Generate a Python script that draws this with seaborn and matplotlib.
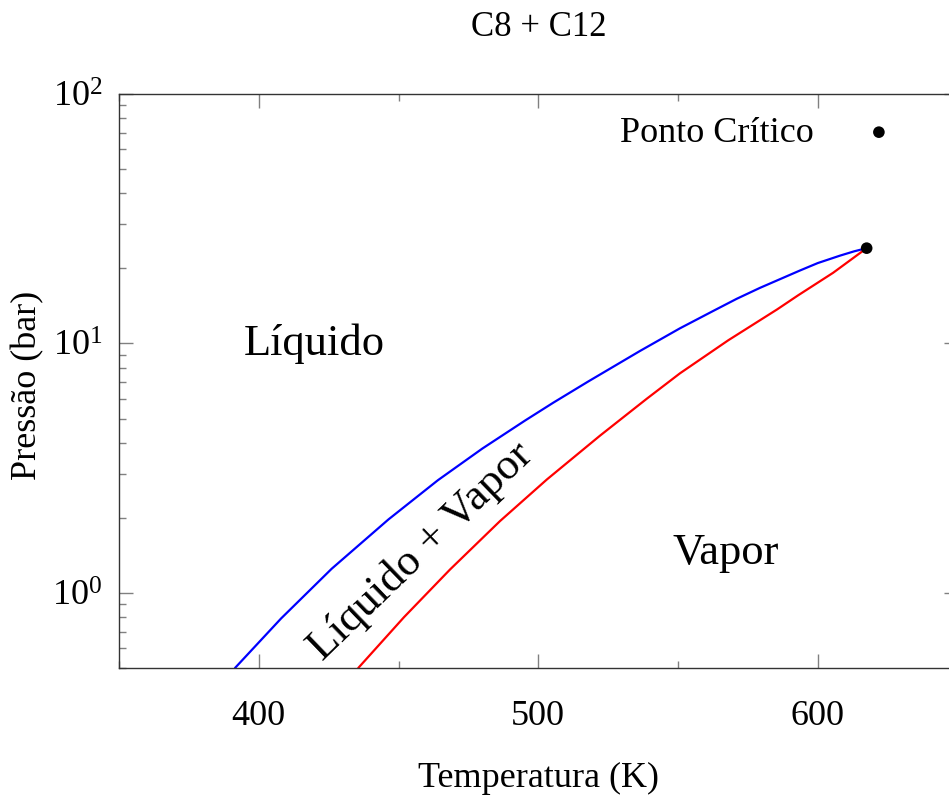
import matplotlib
matplotlib.use("Agg")
import matplotlib.pyplot as plt
from matplotlib.ticker import MultipleLocator, LogLocator, NullFormatter
import pandas as pd
import seaborn as sns

# curvas de bolha (azul) e orvalho (vermelho)
bubble_T = [391.5, 408.0, 426.1, 446.4, 464.1, 480.0, 495.3, 505.4, 517.8,
            536.4, 550.7, 562.6, 571.0, 579.3, 593.6, 600.0, 608.0, 613.0, 617.5]
bubble_P = [0.50, 0.79, 1.25, 1.97, 2.83, 3.79, 4.91, 5.79, 7.03,
            9.33, 11.5, 13.5, 15.1, 16.7, 19.6, 21.0, 22.5, 23.4, 24.1]

dew_T = [435.6, 452.0, 468.4, 486.3, 503.1, 522.1, 538.8, 550.7, 568.0,
         585.5, 593.0, 605.5, 617.5]
dew_P = [0.50, 0.80, 1.24, 1.94, 2.85, 4.27, 6.00, 7.59, 10.3,
         13.7, 15.6, 19.2, 24.1]

crit_T = [617.5]
crit_P = [24.1]

sns.set_style("ticks")
plt.rcParams["font.family"] = ["Liberation Serif", "DejaVu Serif"]
plt.rcParams["mathtext.fontset"] = "custom"
plt.rcParams["mathtext.rm"] = "Liberation Serif"
plt.rcParams["mathtext.it"] = "Liberation Serif:italic"
plt.rcParams["text.color"] = "black"
plt.rcParams["axes.labelcolor"] = "black"

W, H = 949, 796
fig = plt.figure(figsize=(W / 100, H / 100), dpi=100)
left, right, top, bottom = 119, 957.5, 94, 668
ax = fig.add_axes([left / W, 1 - bottom / H, (right - left) / W, (bottom - top) / H])

bubble = pd.DataFrame({"T": bubble_T, "P": bubble_P})
dew = pd.DataFrame({"T": dew_T, "P": dew_P})
crit = pd.DataFrame({"T": crit_T, "P": crit_P})

sns.lineplot(data=bubble, x="T", y="P", color="#0000ff", lw=1.6,
             estimator=None, sort=False, ax=ax)
sns.lineplot(data=dew, x="T", y="P", color="#ff0000", lw=1.6,
             estimator=None, sort=False, ax=ax)
sns.scatterplot(data=crit, x="T", y="P", color="black", s=70,
                edgecolor="none", label="Ponto Crítico", ax=ax, zorder=5)

ax.set_yscale("log")
ax.set_xlim(350, 650)
ax.set_ylim(0.5, 100)

ax.xaxis.set_major_locator(MultipleLocator(100))
ax.xaxis.set_minor_locator(MultipleLocator(50))
ax.yaxis.set_major_locator(LogLocator(base=10))
ax.yaxis.set_minor_locator(LogLocator(base=10, subs=range(2, 10)))
ax.yaxis.set_minor_formatter(NullFormatter())

ax.tick_params(which="both", direction="in", top=True, right=True,
               color="#808080", width=1.0, labelsize=26, labelcolor="black")
ax.tick_params(which="major", length=10)
ax.tick_params(which="minor", length=5)
ax.tick_params(axis="x", which="major", pad=23)
ax.tick_params(axis="y", which="major", pad=12)

for sp in ax.spines.values():
    sp.set_color("#333333")
    sp.set_linewidth(1.0)

ax.set_xlabel("Temperatura (K)", fontsize=26)
ax.set_ylabel("Pressão (bar)", fontsize=26)
ax.xaxis.set_label_coords((539 - left) / (right - left), -(778 - bottom) / (bottom - top))
ax.yaxis.set_label_coords(-(119 - 28) / (right - left), (bottom - 385) / (bottom - top))
ax.xaxis.label.set_va("center")
ax.yaxis.label.set_va("center")

fig.text(539 / W, 1 - 28 / H, "C8 + C12", ha="center", va="center", fontsize=25)

ax.text(420, 10.0, "Líquido", ha="center", va="center", fontsize=32)
ax.text(567, 1.45, "Vapor", ha="center", va="center", fontsize=32)
ax.text(458, 1.47, "Líquido + Vapor", ha="center", va="center", fontsize=32,
        rotation=44, rotation_mode="anchor")

ax.legend(loc="center right", bbox_to_anchor=(915 / W, 1 - 133 / H),
          bbox_transform=fig.transFigure, frameon=False, markerfirst=False,
          borderpad=0, borderaxespad=0, handlelength=2.0, handletextpad=0.8,
          fontsize=26, markerscale=1.0)

fig.savefig("out.png", dpi=100)
